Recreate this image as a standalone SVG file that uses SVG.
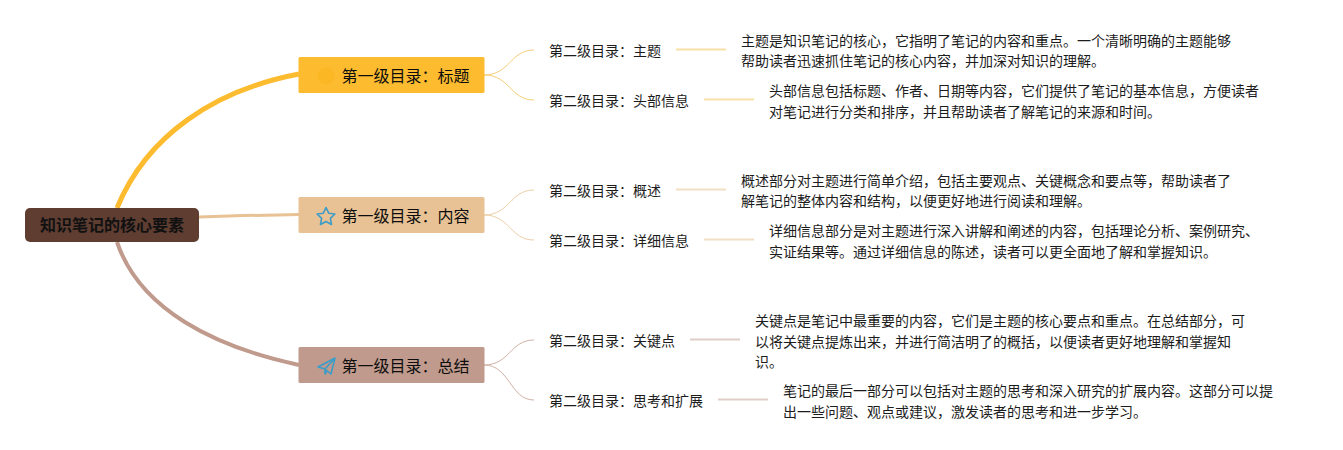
<svg xmlns="http://www.w3.org/2000/svg" width="1343" height="450" viewBox="0 0 1343 450">
<style>
text{font-family:"Noto Sans CJK SC","Noto Sans",sans-serif;fill:#1a1a1a}
.r{font-size:16px;font-weight:700;fill:#111}
.l1{font-size:16px;fill:#0d0d0d}
.l2,.d{font-size:14px;fill:#1c1c1c}
.c{fill:none}
.ic{fill:none;stroke:#3d9cc8;stroke-width:1.6;stroke-linejoin:round}
</style>
<rect width="1343" height="450" fill="#fff"/>
<g id="connectors">
<path class="c" d="M117 208C147 135 215 90 299 74" stroke="#fdbc30" stroke-width="5"/>
<path class="c" d="M199 217C230 216 265 215 299 214.500" stroke="#e8c294" stroke-width="3"/>
<path class="c" d="M117 242C140 310 215 347 299 365" stroke="#c09a8c" stroke-width="4"/>
<g fill="none" stroke-width="1">
<path d="M484 75C510 75 510 50 534 50M484 75C510 75 510 100 534 100" stroke="#f6cd78"/>
<path d="M484 215C510 215 510 190 534 190M484 215C510 215 510 240 534 240" stroke="#eccfa8"/>
<path d="M484 365C510 365 510 340 534 340M484 365C510 365 510 400 534 400" stroke="#d0b2a6"/>
</g>
<g fill="none" stroke-width="2">
<path d="M676 49.500H726M704 99.500H754" stroke="#f9e0a6"/>
<path d="M676 189.500H726M704 239.500H754" stroke="#f3dfc4"/>
<path d="M690 339.500H740M718 399.500H768" stroke="#dfcec8"/>
</g>
</g>
<g id="root"><rect x="25" y="208" width="174" height="34" rx="5" fill="#5f3d31"/><text class="r" x="40" y="231">知识笔记的核心要素</text></g>
<g id="n1"><rect x="298.500" y="57" width="186" height="36" rx="1.500" fill="#fdbc30"/><circle cx="326" cy="76" r="8.500" fill="#fbb824"/><text class="l1" x="341.500" y="82">第一级目录：标题</text></g>
<g id="n2"><rect x="298.500" y="197" width="186" height="36" rx="1.500" fill="#e8c294"/><path class="ic" d="M326 207.500l2.700 5.700 6.200.8-4.500 4.300 1.100 6.200-5.500-3-5.500 3 1.100-6.200-4.500-4.300 6.200-.8z"/><text class="l1" x="341.500" y="222">第一级目录：内容</text></g>
<g id="n3"><rect x="298.500" y="347" width="186" height="36" rx="1.500" fill="#c09a8c"/><path class="ic" d="M318 367l17-9-4 16-6-5zM335 358l-10 11v5l2.500-3.500"/><text class="l1" x="341.500" y="372">第一级目录：总结</text></g>
<g id="a1"><text class="l2" x="549" y="56">第二级目录：主题</text></g>
<g id="a1d"><text class="d" x="741" y="46">主题是知识笔记的核心，它指明了笔记的内容和重点。一个清晰明确的主题能够</text><text class="d" x="741" y="66">帮助读者迅速抓住笔记的核心内容，并加深对知识的理解。</text></g>
<g id="a2"><text class="l2" x="549" y="106">第二级目录：头部信息</text></g>
<g id="a2d"><text class="d" x="769" y="96">头部信息包括标题、作者、日期等内容，它们提供了笔记的基本信息，方便读者</text><text class="d" x="769" y="116.500">对笔记进行分类和排序，并且帮助读者了解笔记的来源和时间。</text></g>
<g id="b1"><text class="l2" x="549" y="196">第二级目录：概述</text></g>
<g id="b1d"><text class="d" x="741" y="186">概述部分对主题进行简单介绍，包括主要观点、关键概念和要点等，帮助读者了</text><text class="d" x="741" y="206">解笔记的整体内容和结构，以便更好地进行阅读和理解。</text></g>
<g id="b2"><text class="l2" x="549" y="246">第二级目录：详细信息</text></g>
<g id="b2d"><text class="d" x="769" y="236">详细信息部分是对主题进行深入讲解和阐述的内容，包括理论分析、案例研究、</text><text class="d" x="769" y="256.500">实证结果等。通过详细信息的陈述，读者可以更全面地了解和掌握知识。</text></g>
<g id="c1"><text class="l2" x="549" y="346">第二级目录：关键点</text></g>
<g id="c1d"><text class="d" x="755" y="326">关键点是笔记中最重要的内容，它们是主题的核心要点和重点。在总结部分，可</text><text class="d" x="755" y="346.500">以将关键点提炼出来，并进行简洁明了的概括，以便读者更好地理解和掌握知</text><text class="d" x="755" y="367">识。</text></g>
<g id="c2"><text class="l2" x="549" y="406">第二级目录：思考和扩展</text></g>
<g id="c2d"><text class="d" x="783" y="396">笔记的最后一部分可以包括对主题的思考和深入研究的扩展内容。这部分可以提</text><text class="d" x="783" y="416.500">出一些问题、观点或建议，激发读者的思考和进一步学习。</text></g>
</svg>
